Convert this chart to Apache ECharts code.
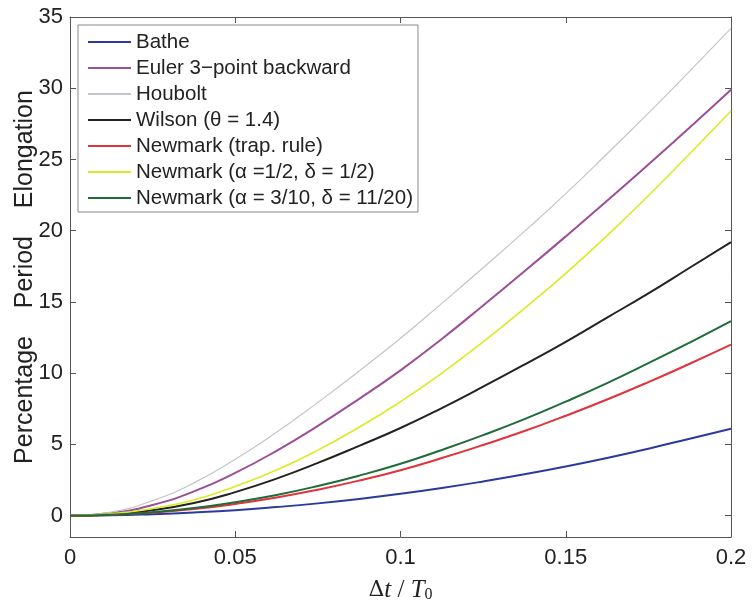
<!DOCTYPE html>
<html><head><meta charset="utf-8">
<script src="https://cdn.jsdelivr.net/npm/echarts@6/dist/echarts.min.js"></script>
<style>html,body{margin:0;padding:0;background:#fff}#c{width:753px;height:604px}</style>
</head><body><div id="c"></div>
<script>
var dt = [0, 0.0125, 0.025, 0.0375, 0.05, 0.0625, 0.075, 0.0875, 0.1, 0.1125, 0.125, 0.1375, 0.15, 0.1625, 0.175, 0.1875, 0.2];
var names = ['Bathe', 'Euler 3\u2212point backward', 'Houbolt', 'Wilson (\u03b8 = 1.4)', 'Newmark (trap. rule)', 'Newmark (\u03b1 =1/2, \u03b4 = 1/2)', 'Newmark (\u03b1 = 3/10, \u03b4 = 11/20)'];
var bathe   = [0, 0.02, 0.1, 0.22, 0.38, 0.6, 0.86, 1.17, 1.53, 1.94, 2.4, 2.9, 3.45, 4.05, 4.7, 5.4, 6.1];
var euler   = [0, 0.18, 0.75, 1.7, 3.0, 4.55, 6.3, 8.2, 10.2, 12.4, 14.75, 17.15, 19.6, 22.1, 24.65, 27.25, 29.9];
var houbolt = [0, 0.25, 1.05, 2.3, 3.95, 5.85, 7.95, 10.15, 12.45, 14.9, 17.4, 19.95, 22.6, 25.4, 28.25, 31.2, 34.2];
var wilson  = [0, 0.1, 0.38, 0.88, 1.65, 2.6, 3.7, 4.9, 6.15, 7.55, 9.05, 10.6, 12.2, 13.9, 15.6, 17.4, 19.2];
var trap    = [0, 0.05, 0.21, 0.46, 0.82, 1.27, 1.82, 2.46, 3.19, 4.04, 4.96, 5.94, 7.01, 8.15, 9.37, 10.66, 12.0];
var nmHalf  = [0, 0.12, 0.5, 1.1, 2.05, 3.2, 4.6, 6.2, 8.0, 10.0, 12.2, 14.55, 17.0, 19.65, 22.45, 25.4, 28.4];
var nm310   = [0, 0.06, 0.24, 0.53, 0.94, 1.45, 2.08, 2.81, 3.64, 4.61, 5.65, 6.77, 8.0, 9.3, 10.7, 12.15, 13.65];

var colors = ['#2b3a9e', '#9c4f96', '#c4c4cc', '#222222', '#e0333a', '#d9ec22', '#1f6b3a'];
var widths = [2, 2, 1.2, 2, 2, 1.6, 2];
var allData = [bathe, euler, houbolt, wilson, trap, nmHalf, nm310];

function pairs(arr) { return dt.map(function (x, i) { return [x, arr[i]]; }); }

var series = allData.map(function (arr, i) {
  return {
    name: names[i], type: 'line', data: pairs(arr), smooth: 0.5,
    showSymbol: false, symbol: 'none', xAxisIndex: 0, yAxisIndex: 0,
    lineStyle: { color: colors[i], width: widths[i] }, itemStyle: { color: colors[i] },
    emphasis: { disabled: true }, z: 3
  };
});

var axisLineStyle = { show: true, onZero: false, lineStyle: { color: '#555', width: 1 } };
var tickStyle = { show: true, inside: true, length: 6, lineStyle: { color: '#555' } };
var font = 'Liberation Sans, Arial, sans-serif';

var chart = echarts.init(document.getElementById('c'));
chart.setOption({
  animation: false,
  backgroundColor: '#fff',
  grid: { left: 70, right: 22, top: 17, bottom: 67, containLabel: false, outerBoundsMode: 'none' },
  legend: {
    orient: 'vertical', left: 78, top: 25,
    data: names,
    icon: 'rect', itemWidth: 43, itemHeight: 2, itemGap: 2,
    padding: [5, 5, 2, 10],
    backgroundColor: '#fff', borderColor: '#888', borderWidth: 1,
    textStyle: { fontFamily: font, fontSize: 20.5, color: '#222', lineHeight: 24 },
    selectedMode: false
  },
  xAxis: [{
    type: 'value', min: 0, max: 0.2, interval: 0.05, position: 'bottom',
    axisLine: axisLineStyle, axisTick: tickStyle, splitLine: { show: false },
    axisLabel: { fontFamily: font, fontSize: 22, color: '#222', margin: 10 },
    name: '{d|\u0394}{i|t}{n| / }{i|T}{s|0}', nameLocation: 'middle', nameGap: 40,
    nameMoveOverlap: false,
    nameTextStyle: {
      rich: {
        d: { fontFamily: 'DejaVu Serif, Liberation Serif, serif', fontSize: 22, color: '#222' },
        i: { fontFamily: 'Liberation Serif, DejaVu Serif, serif', fontStyle: 'italic', fontSize: 25, color: '#222' },
        n: { fontFamily: 'Liberation Serif, serif', fontSize: 25, color: '#222' },
        s: { fontFamily: 'Liberation Serif, serif', fontSize: 16, color: '#222', verticalAlign: 'bottom', padding: [10, 0, 0, 0] }
      }
    }
  }, {
    type: 'value', min: 0, max: 0.2, interval: 0.05, position: 'top',
    axisLine: axisLineStyle, axisTick: tickStyle, splitLine: { show: false },
    axisLabel: { show: false }
  }],
  yAxis: [{
    type: 'value', min: -1.5, max: 35, splitNumber: 7, position: 'left',
    axisLine: axisLineStyle, axisTick: tickStyle, splitLine: { show: false },
    axisLabel: {
      fontFamily: font, fontSize: 22, color: '#222', margin: 7,
      formatter: function (v) { return (v < 0) ? '' : String(v); }
    },
    name: 'Percentage    Period    Elongation', nameLocation: 'middle', nameGap: 32,
    nameMoveOverlap: false,
    nameTextStyle: { fontFamily: font, fontSize: 25, color: '#222' }
  }, {
    type: 'value', min: -1.5, max: 35, splitNumber: 7, position: 'right',
    axisLine: axisLineStyle, axisTick: tickStyle, splitLine: { show: false },
    axisLabel: { show: false }
  }],
  series: series
});
</script></body></html>
